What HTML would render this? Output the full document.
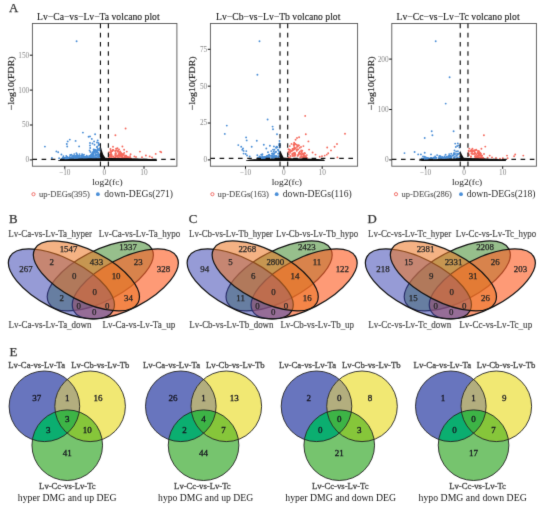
<!DOCTYPE html>
<html><head><meta charset="utf-8"><style>
html,body{margin:0;padding:0;background:#fff;}
body{width:550px;height:509px;overflow:hidden;}
svg{display:block;font-family:"Liberation Serif", serif;}
</style></head><body>
<svg width="550" height="509" viewBox="0 0 550 509"><defs><clipPath id="cb0"><circle cx="44.4" cy="406.3" r="35.3"/></clipPath><clipPath id="cy0"><circle cx="90.1" cy="406.3" r="35.3"/></clipPath><clipPath id="cb1"><circle cx="180.8" cy="406.3" r="35.3"/></clipPath><clipPath id="cy1"><circle cx="226.3" cy="406.3" r="35.3"/></clipPath><clipPath id="cb2"><circle cx="316.5" cy="406.3" r="35.3"/></clipPath><clipPath id="cy2"><circle cx="362.0" cy="406.3" r="35.3"/></clipPath><clipPath id="cb3"><circle cx="450.8" cy="406.3" r="35.3"/></clipPath><clipPath id="cy3"><circle cx="496.3" cy="406.3" r="35.3"/></clipPath><filter id="bl" x="0" y="0" width="550" height="509" filterUnits="userSpaceOnUse" color-interpolation-filters="sRGB"><feConvolveMatrix order="3" kernelMatrix="1.0 8.0 1.0 8.0 64.0 8.0 1.0 8.0 1.0" edgeMode="duplicate"/></filter></defs><g filter="url(#bl)"><rect width="550" height="509" fill="#fff"/><g><rect x="32.40" y="23.50" width="144.50" height="142.70" fill="none" stroke="#555" stroke-width="0.9"/><text x="37.00" y="19.90" font-size="9.4" fill="#222" textLength="122.60" lengthAdjust="spacingAndGlyphs" stroke="#222" stroke-width="0.12">Lv−Ca−vs−Lv−Ta volcano plot</text><line x1="29.80" y1="159.90" x2="32.40" y2="159.90" stroke="#111" stroke-width="1.0"/><text x="29.20" y="162.30" font-size="7.3" fill="#888" text-anchor="end">0</text><line x1="29.80" y1="125.00" x2="32.40" y2="125.00" stroke="#111" stroke-width="1.0"/><text x="29.20" y="127.40" font-size="7.3" fill="#888" text-anchor="end">50</text><line x1="29.80" y1="90.10" x2="32.40" y2="90.10" stroke="#111" stroke-width="1.0"/><text x="29.20" y="92.50" font-size="7.3" fill="#888" text-anchor="end">100</text><line x1="29.80" y1="55.20" x2="32.40" y2="55.20" stroke="#111" stroke-width="1.0"/><text x="29.20" y="57.60" font-size="7.3" fill="#888" text-anchor="end">150</text><line x1="64.80" y1="166.20" x2="64.80" y2="168.80" stroke="#111" stroke-width="1.0"/><text x="64.80" y="175.40" font-size="7.3" fill="#888" text-anchor="middle">−10</text><line x1="104.40" y1="166.20" x2="104.40" y2="168.80" stroke="#111" stroke-width="1.0"/><text x="104.40" y="175.40" font-size="7.3" fill="#888" text-anchor="middle">0</text><line x1="144.00" y1="166.20" x2="144.00" y2="168.80" stroke="#111" stroke-width="1.0"/><text x="144.00" y="175.40" font-size="7.3" fill="#888" text-anchor="middle">10</text><text x="107.40" y="184.50" font-size="8.9" fill="#333" text-anchor="middle" textLength="30.30" lengthAdjust="spacingAndGlyphs" stroke="#333" stroke-width="0.05">log2(fc)</text><text transform="translate(14.10,83.30) rotate(-90) scale(1,0.88)" font-size="9.8" fill="#2a2a2a" stroke="#2a2a2a" stroke-width="0.22" text-anchor="middle" textLength="53.5" lengthAdjust="spacingAndGlyphs">−log10(FDR)</text><circle cx="33.50" cy="194.2" r="1.6" fill="none" stroke="#F2706A" stroke-width="1.0"/><text x="38.90" y="196.90" font-size="8.6" fill="#555" textLength="50.90" lengthAdjust="spacingAndGlyphs" stroke="#555" stroke-width="0.1">up-DEGs(395)</text><circle cx="97.90" cy="194.2" r="1.9" fill="#4A8FD8"/><text x="104.30" y="197.40" font-size="9.8" fill="#2e2e2e" textLength="68.70" lengthAdjust="spacingAndGlyphs">down-DEGs(271)</text></g><g><rect x="210.40" y="23.50" width="147.20" height="142.70" fill="none" stroke="#555" stroke-width="0.9"/><text x="216.00" y="19.90" font-size="9.4" fill="#222" textLength="124.40" lengthAdjust="spacingAndGlyphs" stroke="#222" stroke-width="0.12">Lv−Cb−vs−Lv−Tb volcano plot</text><line x1="207.80" y1="159.90" x2="210.40" y2="159.90" stroke="#111" stroke-width="1.0"/><text x="207.20" y="162.30" font-size="7.3" fill="#888" text-anchor="end">0</text><line x1="207.80" y1="123.03" x2="210.40" y2="123.03" stroke="#111" stroke-width="1.0"/><text x="207.20" y="125.43" font-size="7.3" fill="#888" text-anchor="end">25</text><line x1="207.80" y1="86.17" x2="210.40" y2="86.17" stroke="#111" stroke-width="1.0"/><text x="207.20" y="88.57" font-size="7.3" fill="#888" text-anchor="end">50</text><line x1="207.80" y1="49.30" x2="210.40" y2="49.30" stroke="#111" stroke-width="1.0"/><text x="207.20" y="51.70" font-size="7.3" fill="#888" text-anchor="end">75</text><line x1="245.50" y1="166.20" x2="245.50" y2="168.80" stroke="#111" stroke-width="1.0"/><text x="245.50" y="175.40" font-size="7.3" fill="#888" text-anchor="middle">−10</text><line x1="283.85" y1="166.20" x2="283.85" y2="168.80" stroke="#111" stroke-width="1.0"/><text x="283.85" y="175.40" font-size="7.3" fill="#888" text-anchor="middle">0</text><line x1="322.20" y1="166.20" x2="322.20" y2="168.80" stroke="#111" stroke-width="1.0"/><text x="322.20" y="175.40" font-size="7.3" fill="#888" text-anchor="middle">10</text><text x="286.85" y="184.50" font-size="8.9" fill="#333" text-anchor="middle" textLength="30.30" lengthAdjust="spacingAndGlyphs" stroke="#333" stroke-width="0.05">log2(fc)</text><text transform="translate(194.60,83.30) rotate(-90) scale(1,0.88)" font-size="9.8" fill="#2a2a2a" stroke="#2a2a2a" stroke-width="0.22" text-anchor="middle" textLength="53.5" lengthAdjust="spacingAndGlyphs">−log10(FDR)</text><circle cx="212.40" cy="194.2" r="1.6" fill="none" stroke="#F2706A" stroke-width="1.0"/><text x="217.60" y="196.90" font-size="8.6" fill="#555" textLength="51.40" lengthAdjust="spacingAndGlyphs" stroke="#555" stroke-width="0.1">up-DEGs(163)</text><circle cx="276.70" cy="194.2" r="1.9" fill="#4A8FD8"/><text x="282.70" y="197.40" font-size="9.8" fill="#2e2e2e" textLength="69.10" lengthAdjust="spacingAndGlyphs">down-DEGs(116)</text></g><g><rect x="391.80" y="23.50" width="144.60" height="142.70" fill="none" stroke="#555" stroke-width="0.9"/><text x="396.50" y="19.90" font-size="9.4" fill="#222" textLength="123.10" lengthAdjust="spacingAndGlyphs" stroke="#222" stroke-width="0.12">Lv−Cc−vs−Lv−Tc volcano plot</text><line x1="389.20" y1="159.90" x2="391.80" y2="159.90" stroke="#111" stroke-width="1.0"/><text x="388.60" y="162.30" font-size="7.3" fill="#888" text-anchor="end">0</text><line x1="389.20" y1="109.50" x2="391.80" y2="109.50" stroke="#111" stroke-width="1.0"/><text x="388.60" y="111.90" font-size="7.3" fill="#888" text-anchor="end">100</text><line x1="389.20" y1="59.10" x2="391.80" y2="59.10" stroke="#111" stroke-width="1.0"/><text x="388.60" y="61.50" font-size="7.3" fill="#888" text-anchor="end">200</text><line x1="425.50" y1="166.20" x2="425.50" y2="168.80" stroke="#111" stroke-width="1.0"/><text x="425.50" y="175.40" font-size="7.3" fill="#888" text-anchor="middle">−10</text><line x1="464.10" y1="166.20" x2="464.10" y2="168.80" stroke="#111" stroke-width="1.0"/><text x="464.10" y="175.40" font-size="7.3" fill="#888" text-anchor="middle">0</text><line x1="502.70" y1="166.20" x2="502.70" y2="168.80" stroke="#111" stroke-width="1.0"/><text x="502.70" y="175.40" font-size="7.3" fill="#888" text-anchor="middle">10</text><text x="467.10" y="184.50" font-size="8.9" fill="#333" text-anchor="middle" textLength="30.30" lengthAdjust="spacingAndGlyphs" stroke="#333" stroke-width="0.05">log2(fc)</text><text transform="translate(373.70,83.30) rotate(-90) scale(1,0.88)" font-size="9.8" fill="#2a2a2a" stroke="#2a2a2a" stroke-width="0.22" text-anchor="middle" textLength="53.5" lengthAdjust="spacingAndGlyphs">−log10(FDR)</text><circle cx="396.00" cy="194.2" r="1.6" fill="none" stroke="#F2706A" stroke-width="1.0"/><text x="401.50" y="196.90" font-size="8.6" fill="#555" textLength="50.30" lengthAdjust="spacingAndGlyphs" stroke="#555" stroke-width="0.1">up-DEGs(286)</text><circle cx="461.00" cy="194.2" r="1.9" fill="#4A8FD8"/><text x="466.70" y="197.40" font-size="9.8" fill="#2e2e2e" textLength="68.80" lengthAdjust="spacingAndGlyphs">down-DEGs(218)</text></g><g fill="#4A8ED6"><circle cx="85.9" cy="158.0" r="0.95"/><circle cx="96.4" cy="155.2" r="0.95"/><circle cx="91.7" cy="155.9" r="0.95"/><circle cx="70.6" cy="155.6" r="0.95"/><circle cx="73.5" cy="156.3" r="0.95"/><circle cx="95.5" cy="157.6" r="0.95"/><circle cx="62.2" cy="158.6" r="0.95"/><circle cx="93.5" cy="158.7" r="0.95"/><circle cx="92.5" cy="156.6" r="0.95"/><circle cx="79.9" cy="158.9" r="0.95"/><circle cx="73.6" cy="158.2" r="0.95"/><circle cx="72.7" cy="156.0" r="0.95"/><circle cx="71.8" cy="157.3" r="0.95"/><circle cx="79.0" cy="157.6" r="0.95"/><circle cx="81.3" cy="158.8" r="0.95"/><circle cx="83.2" cy="156.2" r="0.95"/><circle cx="100.1" cy="144.7" r="0.95"/><circle cx="92.4" cy="153.9" r="0.95"/><circle cx="85.8" cy="158.6" r="0.95"/><circle cx="99.9" cy="155.1" r="0.95"/><circle cx="70.2" cy="155.0" r="0.95"/><circle cx="68.1" cy="158.8" r="0.95"/><circle cx="85.5" cy="158.9" r="0.95"/><circle cx="63.7" cy="158.6" r="0.95"/><circle cx="63.4" cy="156.2" r="0.95"/><circle cx="81.7" cy="158.6" r="0.95"/><circle cx="79.9" cy="156.0" r="0.95"/><circle cx="97.1" cy="154.5" r="0.95"/><circle cx="86.1" cy="158.7" r="0.95"/><circle cx="81.7" cy="157.0" r="0.95"/><circle cx="81.0" cy="158.3" r="0.95"/><circle cx="71.5" cy="154.8" r="0.95"/><circle cx="62.5" cy="158.8" r="0.95"/><circle cx="69.4" cy="158.2" r="0.95"/><circle cx="88.5" cy="158.0" r="0.95"/><circle cx="69.7" cy="158.1" r="0.95"/><circle cx="76.2" cy="157.8" r="0.95"/><circle cx="62.1" cy="158.6" r="0.95"/><circle cx="93.8" cy="152.3" r="0.95"/><circle cx="67.9" cy="158.8" r="0.95"/><circle cx="72.2" cy="158.7" r="0.95"/><circle cx="95.7" cy="158.3" r="0.95"/><circle cx="81.5" cy="155.8" r="0.95"/><circle cx="94.4" cy="151.0" r="0.95"/><circle cx="86.5" cy="158.6" r="0.95"/><circle cx="90.4" cy="156.4" r="0.95"/><circle cx="65.5" cy="158.8" r="0.95"/><circle cx="82.7" cy="157.7" r="0.95"/><circle cx="81.4" cy="157.6" r="0.95"/><circle cx="95.4" cy="150.3" r="0.95"/><circle cx="75.8" cy="158.8" r="0.95"/><circle cx="84.9" cy="158.4" r="0.95"/><circle cx="64.3" cy="158.4" r="0.95"/><circle cx="76.8" cy="158.8" r="0.95"/><circle cx="74.4" cy="158.4" r="0.95"/><circle cx="67.8" cy="158.4" r="0.95"/><circle cx="93.3" cy="152.8" r="0.95"/><circle cx="76.5" cy="156.3" r="0.95"/><circle cx="99.5" cy="148.8" r="0.95"/><circle cx="84.6" cy="157.3" r="0.95"/><circle cx="85.2" cy="157.6" r="0.95"/><circle cx="86.4" cy="157.4" r="0.95"/><circle cx="87.9" cy="158.0" r="0.95"/><circle cx="67.8" cy="158.0" r="0.95"/><circle cx="78.9" cy="158.1" r="0.95"/><circle cx="71.2" cy="158.7" r="0.95"/><circle cx="77.4" cy="156.2" r="0.95"/><circle cx="65.7" cy="158.8" r="0.95"/><circle cx="99.1" cy="144.4" r="0.95"/><circle cx="70.2" cy="157.9" r="0.95"/><circle cx="87.7" cy="158.5" r="0.95"/><circle cx="73.5" cy="156.2" r="0.95"/><circle cx="95.5" cy="158.0" r="0.95"/><circle cx="87.4" cy="156.9" r="0.95"/><circle cx="67.0" cy="158.9" r="0.95"/><circle cx="94.4" cy="150.8" r="0.95"/><circle cx="98.2" cy="152.9" r="0.95"/><circle cx="96.6" cy="150.7" r="0.95"/><circle cx="83.8" cy="158.4" r="0.95"/><circle cx="67.6" cy="158.0" r="0.95"/><circle cx="69.4" cy="157.8" r="0.95"/><circle cx="97.5" cy="152.3" r="0.95"/><circle cx="83.2" cy="156.4" r="0.95"/><circle cx="68.9" cy="158.4" r="0.95"/><circle cx="95.9" cy="155.6" r="0.95"/><circle cx="86.6" cy="157.8" r="0.95"/><circle cx="83.8" cy="156.9" r="0.95"/><circle cx="76.4" cy="153.2" r="0.95"/><circle cx="77.7" cy="156.6" r="0.95"/><circle cx="71.2" cy="158.6" r="0.95"/><circle cx="63.5" cy="158.6" r="0.95"/><circle cx="95.6" cy="151.9" r="0.95"/><circle cx="79.9" cy="158.8" r="0.95"/><circle cx="83.0" cy="157.1" r="0.95"/><circle cx="74.3" cy="158.9" r="0.95"/><circle cx="90.8" cy="156.0" r="0.95"/><circle cx="63.0" cy="157.9" r="0.95"/><circle cx="76.3" cy="157.7" r="0.95"/><circle cx="63.2" cy="158.5" r="0.95"/><circle cx="66.7" cy="158.4" r="0.95"/><circle cx="99.0" cy="150.3" r="0.95"/><circle cx="87.2" cy="158.8" r="0.95"/><circle cx="78.4" cy="157.1" r="0.95"/><circle cx="82.1" cy="154.1" r="0.95"/><circle cx="95.4" cy="150.0" r="0.95"/><circle cx="75.2" cy="158.8" r="0.95"/><circle cx="84.6" cy="158.1" r="0.95"/><circle cx="88.2" cy="158.0" r="0.95"/><circle cx="75.6" cy="157.3" r="0.95"/><circle cx="81.9" cy="158.8" r="0.95"/><circle cx="91.3" cy="157.0" r="0.95"/><circle cx="96.8" cy="157.3" r="0.95"/><circle cx="67.8" cy="158.7" r="0.95"/><circle cx="97.7" cy="148.9" r="0.95"/><circle cx="62.2" cy="158.9" r="0.95"/><circle cx="90.8" cy="157.8" r="0.95"/><circle cx="93.0" cy="154.1" r="0.95"/><circle cx="67.2" cy="158.2" r="0.95"/><circle cx="78.0" cy="157.2" r="0.95"/><circle cx="93.2" cy="153.5" r="0.95"/><circle cx="62.5" cy="158.7" r="0.95"/><circle cx="86.1" cy="157.9" r="0.95"/><circle cx="92.4" cy="154.5" r="0.95"/><circle cx="81.6" cy="157.0" r="0.95"/><circle cx="89.8" cy="157.8" r="0.95"/><circle cx="70.7" cy="158.2" r="0.95"/><circle cx="69.6" cy="158.1" r="0.95"/><circle cx="75.9" cy="157.8" r="0.95"/><circle cx="68.9" cy="157.8" r="0.95"/><circle cx="75.3" cy="157.9" r="0.95"/><circle cx="98.3" cy="154.3" r="0.95"/><circle cx="84.0" cy="154.7" r="0.95"/><circle cx="75.0" cy="157.5" r="0.95"/><circle cx="72.4" cy="158.3" r="0.95"/><circle cx="98.5" cy="145.2" r="0.95"/><circle cx="79.0" cy="157.9" r="0.95"/><circle cx="99.5" cy="148.5" r="0.95"/><circle cx="81.7" cy="156.6" r="0.95"/><circle cx="82.0" cy="157.8" r="0.95"/><circle cx="96.3" cy="152.0" r="0.95"/><circle cx="90.4" cy="158.9" r="0.95"/><circle cx="84.2" cy="158.2" r="0.95"/><circle cx="78.3" cy="155.8" r="0.95"/><circle cx="95.6" cy="154.0" r="0.95"/><circle cx="77.8" cy="157.1" r="0.95"/><circle cx="97.3" cy="152.1" r="0.95"/><circle cx="64.6" cy="158.3" r="0.95"/><circle cx="78.5" cy="157.1" r="0.95"/><circle cx="81.9" cy="157.9" r="0.95"/><circle cx="98.4" cy="157.5" r="0.95"/><circle cx="71.6" cy="158.4" r="0.95"/><circle cx="92.9" cy="157.6" r="0.95"/><circle cx="87.9" cy="158.4" r="0.95"/><circle cx="89.5" cy="157.0" r="0.95"/><circle cx="86.1" cy="158.4" r="0.95"/><circle cx="99.2" cy="154.4" r="0.95"/><circle cx="74.7" cy="158.0" r="0.95"/><circle cx="77.3" cy="157.0" r="0.95"/><circle cx="69.8" cy="157.2" r="0.95"/><circle cx="63.9" cy="158.1" r="0.95"/><circle cx="70.2" cy="158.4" r="0.95"/><circle cx="97.1" cy="146.6" r="0.95"/><circle cx="94.2" cy="151.8" r="0.95"/><circle cx="66.3" cy="158.5" r="0.95"/><circle cx="85.1" cy="157.6" r="0.95"/><circle cx="80.4" cy="158.8" r="0.95"/><circle cx="84.8" cy="157.1" r="0.95"/><circle cx="87.3" cy="158.5" r="0.95"/><circle cx="73.7" cy="157.7" r="0.95"/><circle cx="98.8" cy="157.3" r="0.95"/><circle cx="79.8" cy="157.8" r="0.95"/><circle cx="86.1" cy="157.4" r="0.95"/><circle cx="86.3" cy="157.5" r="0.95"/><circle cx="69.0" cy="158.3" r="0.95"/><circle cx="64.4" cy="158.2" r="0.95"/><circle cx="77.8" cy="157.5" r="0.95"/><circle cx="91.3" cy="157.9" r="0.95"/><circle cx="93.2" cy="155.6" r="0.95"/><circle cx="90.0" cy="158.6" r="0.95"/><circle cx="66.3" cy="158.7" r="0.95"/><circle cx="97.0" cy="147.3" r="0.95"/><circle cx="92.7" cy="154.4" r="0.95"/><circle cx="95.6" cy="158.7" r="0.95"/><circle cx="82.0" cy="156.9" r="0.95"/><circle cx="97.1" cy="150.2" r="0.95"/><circle cx="63.8" cy="158.6" r="0.95"/><circle cx="63.2" cy="158.9" r="0.95"/><circle cx="62.8" cy="158.6" r="0.95"/><circle cx="71.7" cy="158.5" r="0.95"/><circle cx="71.5" cy="157.6" r="0.95"/><circle cx="69.2" cy="158.4" r="0.95"/><circle cx="83.7" cy="157.5" r="0.95"/><circle cx="63.5" cy="158.8" r="0.95"/><circle cx="84.6" cy="158.1" r="0.95"/><circle cx="68.4" cy="158.3" r="0.95"/><circle cx="88.0" cy="158.1" r="0.95"/><circle cx="62.8" cy="158.8" r="0.95"/><circle cx="73.9" cy="156.0" r="0.95"/><circle cx="97.9" cy="156.5" r="0.95"/><circle cx="82.6" cy="155.0" r="0.95"/><circle cx="93.1" cy="157.7" r="0.95"/><circle cx="87.2" cy="158.9" r="0.95"/><circle cx="85.4" cy="158.2" r="0.95"/><circle cx="69.3" cy="157.7" r="0.95"/><circle cx="84.0" cy="157.3" r="0.95"/><circle cx="63.5" cy="157.6" r="0.95"/><circle cx="92.7" cy="152.3" r="0.95"/><circle cx="98.8" cy="156.0" r="0.95"/><circle cx="94.7" cy="149.8" r="0.95"/><circle cx="63.9" cy="158.6" r="0.95"/><circle cx="75.0" cy="155.9" r="0.95"/><circle cx="74.2" cy="154.1" r="0.95"/><circle cx="66.3" cy="156.0" r="0.95"/><circle cx="86.0" cy="157.6" r="0.95"/><circle cx="92.5" cy="154.8" r="0.95"/><circle cx="74.0" cy="158.1" r="0.95"/><circle cx="95.0" cy="157.3" r="0.95"/><circle cx="92.5" cy="152.7" r="0.95"/><circle cx="66.9" cy="158.5" r="0.95"/><circle cx="91.4" cy="158.6" r="0.95"/><circle cx="95.8" cy="155.4" r="0.95"/><circle cx="69.6" cy="157.9" r="0.95"/><circle cx="84.0" cy="158.7" r="0.95"/><circle cx="86.5" cy="158.8" r="0.95"/><circle cx="85.3" cy="156.8" r="0.95"/><circle cx="65.7" cy="158.7" r="0.95"/><circle cx="87.3" cy="156.7" r="0.95"/><circle cx="86.2" cy="158.9" r="0.95"/><circle cx="93.6" cy="158.1" r="0.95"/><circle cx="92.8" cy="158.3" r="0.95"/><circle cx="74.5" cy="157.7" r="0.95"/><circle cx="89.7" cy="158.9" r="0.95"/><circle cx="95.2" cy="155.5" r="0.95"/><circle cx="96.2" cy="157.9" r="0.95"/><circle cx="68.2" cy="158.6" r="0.95"/><circle cx="63.0" cy="158.5" r="0.95"/><circle cx="86.9" cy="158.7" r="0.95"/><circle cx="70.2" cy="157.8" r="0.95"/><circle cx="83.6" cy="158.1" r="0.95"/><circle cx="98.2" cy="155.0" r="0.95"/><circle cx="76.5" cy="156.0" r="0.95"/><circle cx="71.7" cy="158.7" r="0.95"/><circle cx="79.5" cy="155.7" r="0.95"/><circle cx="87.2" cy="157.5" r="0.95"/><circle cx="65.9" cy="158.3" r="0.95"/><circle cx="76.6" cy="158.8" r="0.95"/><circle cx="67.1" cy="157.5" r="0.95"/><circle cx="87.4" cy="158.1" r="0.95"/><circle cx="93.8" cy="150.7" r="0.95"/><circle cx="76.4" cy="158.4" r="0.95"/><circle cx="76.2" cy="155.4" r="0.95"/><circle cx="82.7" cy="156.5" r="0.95"/><circle cx="70.2" cy="158.8" r="0.95"/><circle cx="71.5" cy="158.4" r="0.95"/><circle cx="74.6" cy="158.9" r="0.95"/><circle cx="79.5" cy="154.1" r="0.95"/><circle cx="65.1" cy="158.0" r="0.95"/><circle cx="90.8" cy="155.8" r="0.95"/><circle cx="84.2" cy="157.6" r="0.95"/><circle cx="73.5" cy="157.2" r="0.95"/><circle cx="65.0" cy="158.3" r="0.95"/><circle cx="91.2" cy="157.2" r="0.95"/><circle cx="67.0" cy="157.9" r="0.95"/><circle cx="67.1" cy="156.9" r="0.95"/><circle cx="67.0" cy="158.6" r="0.95"/><circle cx="65.1" cy="158.5" r="0.95"/><circle cx="96.7" cy="158.8" r="0.95"/><circle cx="72.3" cy="157.2" r="0.95"/><circle cx="73.7" cy="157.0" r="0.95"/><circle cx="93.9" cy="156.3" r="0.95"/><circle cx="85.7" cy="157.3" r="0.95"/><circle cx="69.2" cy="157.7" r="0.95"/><circle cx="78.7" cy="158.0" r="0.95"/><circle cx="95.9" cy="158.5" r="0.95"/><circle cx="76.4" cy="158.6" r="0.95"/><circle cx="89.2" cy="156.2" r="0.95"/><circle cx="65.7" cy="158.7" r="0.95"/><circle cx="89.9" cy="158.2" r="0.95"/><circle cx="91.7" cy="154.1" r="0.95"/><circle cx="93.6" cy="157.5" r="0.95"/><circle cx="87.8" cy="157.6" r="0.95"/><circle cx="76.2" cy="156.7" r="0.95"/><circle cx="64.5" cy="158.1" r="0.95"/><circle cx="81.9" cy="157.9" r="0.95"/><circle cx="91.0" cy="158.9" r="0.95"/><circle cx="69.3" cy="157.6" r="0.95"/><circle cx="72.2" cy="158.5" r="0.95"/><circle cx="82.5" cy="158.7" r="0.95"/><circle cx="90.7" cy="156.7" r="0.95"/><circle cx="96.3" cy="152.4" r="0.95"/><circle cx="66.8" cy="158.8" r="0.95"/><circle cx="69.1" cy="158.6" r="0.95"/><circle cx="92.6" cy="153.2" r="0.95"/><circle cx="86.7" cy="155.8" r="0.95"/><circle cx="89.6" cy="157.6" r="0.95"/><circle cx="100.2" cy="158.0" r="0.95"/><circle cx="98.0" cy="149.7" r="0.95"/><circle cx="94.3" cy="158.4" r="0.95"/><circle cx="91.8" cy="157.0" r="0.95"/><circle cx="77.1" cy="154.4" r="0.95"/><circle cx="86.6" cy="158.1" r="0.95"/><circle cx="69.1" cy="157.6" r="0.95"/><circle cx="91.1" cy="154.7" r="0.95"/><circle cx="91.0" cy="158.3" r="0.95"/><circle cx="89.6" cy="156.0" r="0.95"/><circle cx="79.0" cy="157.0" r="0.95"/><circle cx="76.5" cy="158.1" r="0.95"/><circle cx="78.1" cy="156.8" r="0.95"/><circle cx="63.3" cy="158.7" r="0.95"/><circle cx="94.3" cy="151.9" r="0.95"/><circle cx="82.8" cy="158.3" r="0.95"/><circle cx="76.8" cy="156.2" r="0.95"/><circle cx="83.0" cy="157.4" r="0.95"/><circle cx="89.6" cy="157.6" r="0.95"/><circle cx="76.6" cy="157.8" r="0.95"/><circle cx="93.8" cy="153.7" r="0.95"/><circle cx="97.2" cy="151.7" r="0.95"/><circle cx="76.8" cy="157.8" r="0.95"/><circle cx="67.3" cy="158.9" r="0.95"/><circle cx="91.1" cy="155.6" r="0.95"/><circle cx="100.0" cy="150.6" r="0.95"/><circle cx="67.7" cy="158.7" r="0.95"/><circle cx="89.3" cy="157.6" r="0.95"/><circle cx="93.6" cy="149.5" r="0.95"/><circle cx="97.3" cy="154.6" r="0.95"/><circle cx="66.7" cy="158.0" r="0.95"/><circle cx="65.5" cy="158.5" r="0.95"/><circle cx="99.8" cy="156.3" r="0.95"/><circle cx="66.5" cy="157.3" r="0.95"/><circle cx="68.8" cy="158.8" r="0.95"/><circle cx="44.9" cy="146.6" r="0.95"/><circle cx="82.9" cy="132.6" r="0.95"/><circle cx="95.1" cy="134.2" r="0.95"/><circle cx="69.8" cy="139.6" r="0.95"/><circle cx="75.6" cy="140.9" r="0.95"/><circle cx="79.1" cy="146.4" r="0.95"/><circle cx="66.8" cy="144.0" r="0.95"/><circle cx="67.7" cy="141.4" r="0.95"/><circle cx="67.2" cy="146.5" r="0.95"/><circle cx="56.4" cy="151.4" r="0.95"/><circle cx="58.2" cy="152.3" r="0.95"/><circle cx="61.4" cy="154.5" r="0.95"/><circle cx="59.1" cy="158.2" r="0.95"/><circle cx="51.9" cy="158.0" r="0.95"/><circle cx="88.6" cy="136.8" r="0.95"/><circle cx="90.0" cy="136.4" r="0.95"/><circle cx="91.8" cy="138.9" r="0.95"/><circle cx="94.1" cy="141.4" r="0.95"/><circle cx="97.7" cy="140.5" r="0.95"/><circle cx="90.0" cy="143.0" r="0.95"/><circle cx="90.0" cy="145.5" r="0.95"/><circle cx="90.2" cy="148.0" r="0.95"/><circle cx="89.6" cy="150.5" r="0.95"/><circle cx="90.4" cy="152.0" r="0.95"/><circle cx="76.6" cy="41.3" r="0.95"/><circle cx="92.5" cy="143.5" r="0.95"/><circle cx="94.5" cy="144.8" r="0.95"/><circle cx="97.0" cy="142.5" r="0.95"/><circle cx="98.5" cy="143.0" r="0.95"/></g><g fill="#F5695D"><circle cx="124.8" cy="156.9" r="0.95"/><circle cx="115.7" cy="154.5" r="0.95"/><circle cx="128.7" cy="157.4" r="0.95"/><circle cx="117.5" cy="156.9" r="0.95"/><circle cx="120.0" cy="156.7" r="0.95"/><circle cx="128.3" cy="157.9" r="0.95"/><circle cx="123.7" cy="154.8" r="0.95"/><circle cx="110.9" cy="152.3" r="0.95"/><circle cx="111.8" cy="155.1" r="0.95"/><circle cx="130.8" cy="158.4" r="0.95"/><circle cx="109.4" cy="154.9" r="0.95"/><circle cx="115.5" cy="150.5" r="0.95"/><circle cx="130.1" cy="158.7" r="0.95"/><circle cx="109.1" cy="158.2" r="0.95"/><circle cx="112.4" cy="151.1" r="0.95"/><circle cx="113.5" cy="156.9" r="0.95"/><circle cx="110.7" cy="150.5" r="0.95"/><circle cx="119.3" cy="155.0" r="0.95"/><circle cx="122.0" cy="156.5" r="0.95"/><circle cx="115.9" cy="158.5" r="0.95"/><circle cx="111.2" cy="151.4" r="0.95"/><circle cx="126.8" cy="158.8" r="0.95"/><circle cx="126.7" cy="156.4" r="0.95"/><circle cx="121.3" cy="153.6" r="0.95"/><circle cx="111.9" cy="156.8" r="0.95"/><circle cx="120.8" cy="158.5" r="0.95"/><circle cx="122.8" cy="154.3" r="0.95"/><circle cx="118.3" cy="155.8" r="0.95"/><circle cx="128.0" cy="158.8" r="0.95"/><circle cx="117.5" cy="155.6" r="0.95"/><circle cx="120.1" cy="151.5" r="0.95"/><circle cx="111.3" cy="155.7" r="0.95"/><circle cx="121.3" cy="155.4" r="0.95"/><circle cx="125.8" cy="156.0" r="0.95"/><circle cx="125.0" cy="156.0" r="0.95"/><circle cx="114.5" cy="158.0" r="0.95"/><circle cx="130.8" cy="158.7" r="0.95"/><circle cx="124.8" cy="157.3" r="0.95"/><circle cx="118.2" cy="151.0" r="0.95"/><circle cx="118.0" cy="158.6" r="0.95"/><circle cx="126.1" cy="157.6" r="0.95"/><circle cx="112.7" cy="150.2" r="0.95"/><circle cx="123.0" cy="157.3" r="0.95"/><circle cx="124.8" cy="158.2" r="0.95"/><circle cx="120.3" cy="155.7" r="0.95"/><circle cx="128.2" cy="158.5" r="0.95"/><circle cx="119.2" cy="152.2" r="0.95"/><circle cx="119.1" cy="158.6" r="0.95"/><circle cx="115.1" cy="157.7" r="0.95"/><circle cx="129.2" cy="158.8" r="0.95"/><circle cx="115.8" cy="153.3" r="0.95"/><circle cx="124.2" cy="152.9" r="0.95"/><circle cx="117.9" cy="151.8" r="0.95"/><circle cx="129.6" cy="157.9" r="0.95"/><circle cx="129.8" cy="157.9" r="0.95"/><circle cx="109.5" cy="157.2" r="0.95"/><circle cx="130.9" cy="158.9" r="0.95"/><circle cx="122.2" cy="157.2" r="0.95"/><circle cx="110.4" cy="149.0" r="0.95"/><circle cx="119.8" cy="153.9" r="0.95"/><circle cx="109.9" cy="158.6" r="0.95"/><circle cx="121.0" cy="154.9" r="0.95"/><circle cx="112.9" cy="150.2" r="0.95"/><circle cx="117.0" cy="150.8" r="0.95"/><circle cx="115.6" cy="153.2" r="0.95"/><circle cx="122.2" cy="154.2" r="0.95"/><circle cx="127.1" cy="157.0" r="0.95"/><circle cx="129.6" cy="158.6" r="0.95"/><circle cx="116.1" cy="148.6" r="0.95"/><circle cx="121.4" cy="154.8" r="0.95"/><circle cx="108.9" cy="158.1" r="0.95"/><circle cx="117.1" cy="156.5" r="0.95"/><circle cx="130.1" cy="156.1" r="0.95"/><circle cx="111.4" cy="154.1" r="0.95"/><circle cx="128.1" cy="158.1" r="0.95"/><circle cx="123.3" cy="154.2" r="0.95"/><circle cx="115.3" cy="157.2" r="0.95"/><circle cx="126.1" cy="155.8" r="0.95"/><circle cx="115.2" cy="151.0" r="0.95"/><circle cx="128.7" cy="158.5" r="0.95"/><circle cx="110.6" cy="156.5" r="0.95"/><circle cx="111.4" cy="158.2" r="0.95"/><circle cx="125.5" cy="155.7" r="0.95"/><circle cx="118.8" cy="158.0" r="0.95"/><circle cx="112.1" cy="158.9" r="0.95"/><circle cx="120.2" cy="153.0" r="0.95"/><circle cx="115.4" cy="154.3" r="0.95"/><circle cx="121.0" cy="155.1" r="0.95"/><circle cx="125.3" cy="156.5" r="0.95"/><circle cx="127.8" cy="158.9" r="0.95"/><circle cx="110.1" cy="158.4" r="0.95"/><circle cx="122.0" cy="156.5" r="0.95"/><circle cx="130.6" cy="158.9" r="0.95"/><circle cx="119.0" cy="155.8" r="0.95"/><circle cx="125.9" cy="156.7" r="0.95"/><circle cx="111.0" cy="152.9" r="0.95"/><circle cx="128.2" cy="157.9" r="0.95"/><circle cx="121.7" cy="158.8" r="0.95"/><circle cx="128.5" cy="158.6" r="0.95"/><circle cx="126.3" cy="156.4" r="0.95"/><circle cx="128.1" cy="158.8" r="0.95"/><circle cx="110.1" cy="154.3" r="0.95"/><circle cx="124.7" cy="158.8" r="0.95"/><circle cx="113.2" cy="150.0" r="0.95"/><circle cx="114.7" cy="158.0" r="0.95"/><circle cx="116.0" cy="156.2" r="0.95"/><circle cx="121.9" cy="156.2" r="0.95"/><circle cx="122.7" cy="155.4" r="0.95"/><circle cx="129.5" cy="157.8" r="0.95"/><circle cx="109.1" cy="152.2" r="0.95"/><circle cx="113.1" cy="156.5" r="0.95"/><circle cx="116.8" cy="148.8" r="0.95"/><circle cx="127.0" cy="157.4" r="0.95"/><circle cx="121.0" cy="152.7" r="0.95"/><circle cx="120.2" cy="158.9" r="0.95"/><circle cx="125.7" cy="156.5" r="0.95"/><circle cx="123.3" cy="158.4" r="0.95"/><circle cx="115.2" cy="155.6" r="0.95"/><circle cx="110.7" cy="154.4" r="0.95"/><circle cx="119.1" cy="154.9" r="0.95"/><circle cx="128.3" cy="157.2" r="0.95"/><circle cx="122.1" cy="155.4" r="0.95"/><circle cx="110.0" cy="155.8" r="0.95"/><circle cx="118.6" cy="153.9" r="0.95"/><circle cx="117.3" cy="155.8" r="0.95"/><circle cx="125.6" cy="128.5" r="0.95"/><circle cx="115.4" cy="135.2" r="0.95"/><circle cx="122.4" cy="146.5" r="0.95"/><circle cx="117.5" cy="148.2" r="0.95"/><circle cx="124.1" cy="149.8" r="0.95"/><circle cx="126.8" cy="151.6" r="0.95"/><circle cx="130.6" cy="154.2" r="0.95"/><circle cx="134.4" cy="156.4" r="0.95"/><circle cx="139.9" cy="151.6" r="0.95"/><circle cx="145.9" cy="155.5" r="0.95"/><circle cx="149.7" cy="156.4" r="0.95"/><circle cx="155.7" cy="153.9" r="0.95"/><circle cx="161.2" cy="152.3" r="0.95"/><circle cx="160.2" cy="151.6" r="0.95"/><circle cx="136.0" cy="157.0" r="0.95"/><circle cx="142.0" cy="157.2" r="0.95"/><circle cx="152.0" cy="157.4" r="0.95"/><circle cx="113.0" cy="146.8" r="0.95"/><circle cx="119.0" cy="149.5" r="0.95"/></g><polygon points="58.0,160.4 62.0,159.6 70.0,159.0 85.0,158.6 100.3,158.2 100.3,144.8 100.9,146.8 101.8,150.2 103.2,154.5 105.3,157.8 110.0,157.9 130.0,158.3 145.0,158.7 156.0,159.2 157.0,160.4 157.0,160.9 58.0,160.9" fill="#0d0d0d"/><g fill="#4A8ED6"><circle cx="271.9" cy="155.6" r="0.95"/><circle cx="261.3" cy="157.7" r="0.95"/><circle cx="275.9" cy="156.1" r="0.95"/><circle cx="273.7" cy="151.5" r="0.95"/><circle cx="274.2" cy="158.9" r="0.95"/><circle cx="273.0" cy="149.6" r="0.95"/><circle cx="276.1" cy="151.7" r="0.95"/><circle cx="263.9" cy="157.6" r="0.95"/><circle cx="272.5" cy="153.4" r="0.95"/><circle cx="268.9" cy="154.9" r="0.95"/><circle cx="264.8" cy="158.0" r="0.95"/><circle cx="264.5" cy="157.1" r="0.95"/><circle cx="260.6" cy="157.0" r="0.95"/><circle cx="268.3" cy="158.7" r="0.95"/><circle cx="265.5" cy="157.9" r="0.95"/><circle cx="266.7" cy="157.0" r="0.95"/><circle cx="276.6" cy="147.6" r="0.95"/><circle cx="272.7" cy="156.3" r="0.95"/><circle cx="272.6" cy="157.8" r="0.95"/><circle cx="279.6" cy="147.6" r="0.95"/><circle cx="262.0" cy="158.2" r="0.95"/><circle cx="268.7" cy="156.3" r="0.95"/><circle cx="259.1" cy="158.4" r="0.95"/><circle cx="266.0" cy="158.7" r="0.95"/><circle cx="278.9" cy="156.3" r="0.95"/><circle cx="259.0" cy="158.8" r="0.95"/><circle cx="274.4" cy="149.7" r="0.95"/><circle cx="276.9" cy="157.0" r="0.95"/><circle cx="268.7" cy="157.4" r="0.95"/><circle cx="275.3" cy="156.4" r="0.95"/><circle cx="267.1" cy="157.8" r="0.95"/><circle cx="265.1" cy="156.9" r="0.95"/><circle cx="268.6" cy="158.8" r="0.95"/><circle cx="261.5" cy="158.8" r="0.95"/><circle cx="264.1" cy="157.2" r="0.95"/><circle cx="264.0" cy="157.8" r="0.95"/><circle cx="279.7" cy="153.8" r="0.95"/><circle cx="264.7" cy="158.3" r="0.95"/><circle cx="262.3" cy="156.3" r="0.95"/><circle cx="278.6" cy="156.5" r="0.95"/><circle cx="260.2" cy="157.9" r="0.95"/><circle cx="279.2" cy="144.2" r="0.95"/><circle cx="276.6" cy="156.0" r="0.95"/><circle cx="271.9" cy="158.8" r="0.95"/><circle cx="266.8" cy="156.2" r="0.95"/><circle cx="261.5" cy="158.5" r="0.95"/><circle cx="259.4" cy="156.5" r="0.95"/><circle cx="259.4" cy="158.1" r="0.95"/><circle cx="265.0" cy="157.0" r="0.95"/><circle cx="266.4" cy="156.5" r="0.95"/><circle cx="278.2" cy="153.7" r="0.95"/><circle cx="269.3" cy="155.6" r="0.95"/><circle cx="279.8" cy="145.1" r="0.95"/><circle cx="273.6" cy="157.2" r="0.95"/><circle cx="260.4" cy="158.3" r="0.95"/><circle cx="269.7" cy="157.6" r="0.95"/><circle cx="260.7" cy="158.0" r="0.95"/><circle cx="257.9" cy="157.9" r="0.95"/><circle cx="278.7" cy="157.3" r="0.95"/><circle cx="264.8" cy="158.5" r="0.95"/><circle cx="261.4" cy="158.4" r="0.95"/><circle cx="259.3" cy="158.5" r="0.95"/><circle cx="272.0" cy="153.8" r="0.95"/><circle cx="267.6" cy="155.8" r="0.95"/><circle cx="257.3" cy="155.2" r="0.95"/><circle cx="273.4" cy="154.3" r="0.95"/><circle cx="262.9" cy="157.7" r="0.95"/><circle cx="275.0" cy="156.9" r="0.95"/><circle cx="268.2" cy="157.6" r="0.95"/><circle cx="269.3" cy="154.7" r="0.95"/><circle cx="267.5" cy="156.2" r="0.95"/><circle cx="272.5" cy="157.3" r="0.95"/><circle cx="279.8" cy="145.8" r="0.95"/><circle cx="275.4" cy="156.4" r="0.95"/><circle cx="258.6" cy="158.6" r="0.95"/><circle cx="268.4" cy="156.3" r="0.95"/><circle cx="262.4" cy="154.2" r="0.95"/><circle cx="259.4" cy="158.7" r="0.95"/><circle cx="261.5" cy="157.6" r="0.95"/><circle cx="262.7" cy="157.4" r="0.95"/><circle cx="279.1" cy="151.8" r="0.95"/><circle cx="274.1" cy="155.1" r="0.95"/><circle cx="276.6" cy="146.6" r="0.95"/><circle cx="273.1" cy="153.7" r="0.95"/><circle cx="264.3" cy="157.2" r="0.95"/><circle cx="266.0" cy="157.5" r="0.95"/><circle cx="267.1" cy="158.4" r="0.95"/><circle cx="263.7" cy="158.5" r="0.95"/><circle cx="266.7" cy="157.8" r="0.95"/><circle cx="274.7" cy="156.5" r="0.95"/><circle cx="258.7" cy="158.8" r="0.95"/><circle cx="263.4" cy="158.1" r="0.95"/><circle cx="268.0" cy="152.3" r="0.95"/><circle cx="272.6" cy="157.3" r="0.95"/><circle cx="271.9" cy="156.9" r="0.95"/><circle cx="273.7" cy="156.8" r="0.95"/><circle cx="259.4" cy="158.5" r="0.95"/><circle cx="261.2" cy="154.7" r="0.95"/><circle cx="264.1" cy="157.8" r="0.95"/><circle cx="263.5" cy="158.5" r="0.95"/><circle cx="274.4" cy="153.3" r="0.95"/><circle cx="279.8" cy="152.8" r="0.95"/><circle cx="272.7" cy="156.3" r="0.95"/><circle cx="257.8" cy="158.4" r="0.95"/><circle cx="263.8" cy="157.4" r="0.95"/><circle cx="275.5" cy="152.1" r="0.95"/><circle cx="278.3" cy="150.3" r="0.95"/><circle cx="270.7" cy="155.9" r="0.95"/><circle cx="265.0" cy="157.2" r="0.95"/><circle cx="265.2" cy="158.5" r="0.95"/><circle cx="259.5" cy="41.3" r="0.95"/><circle cx="257.4" cy="74.7" r="0.95"/><circle cx="226.8" cy="125.6" r="0.95"/><circle cx="224.8" cy="133.9" r="0.95"/><circle cx="267.6" cy="119.5" r="0.95"/><circle cx="272.6" cy="126.6" r="0.95"/><circle cx="273.0" cy="129.3" r="0.95"/><circle cx="277.0" cy="134.3" r="0.95"/><circle cx="246.1" cy="137.4" r="0.95"/><circle cx="246.7" cy="140.4" r="0.95"/><circle cx="256.8" cy="140.8" r="0.95"/><circle cx="238.3" cy="145.1" r="0.95"/><circle cx="241.2" cy="146.8" r="0.95"/><circle cx="243.0" cy="148.5" r="0.95"/><circle cx="242.3" cy="149.8" r="0.95"/><circle cx="243.6" cy="150.9" r="0.95"/><circle cx="251.7" cy="146.8" r="0.95"/><circle cx="246.3" cy="151.1" r="0.95"/><circle cx="263.8" cy="144.8" r="0.95"/><circle cx="266.3" cy="148.5" r="0.95"/><circle cx="269.9" cy="145.8" r="0.95"/><circle cx="273.9" cy="146.4" r="0.95"/><circle cx="276.0" cy="147.8" r="0.95"/><circle cx="277.3" cy="147.1" r="0.95"/><circle cx="278.0" cy="149.8" r="0.95"/><circle cx="271.2" cy="151.1" r="0.95"/><circle cx="243.6" cy="153.6" r="0.95"/><circle cx="245.7" cy="154.0" r="0.95"/><circle cx="247.0" cy="155.5" r="0.95"/><circle cx="249.7" cy="156.5" r="0.95"/><circle cx="279.5" cy="141.0" r="0.95"/><circle cx="279.6" cy="143.5" r="0.95"/><circle cx="279.2" cy="145.5" r="0.95"/></g><g fill="#F5695D"><circle cx="292.6" cy="149.0" r="0.95"/><circle cx="288.8" cy="154.2" r="0.95"/><circle cx="296.7" cy="150.8" r="0.95"/><circle cx="289.4" cy="149.6" r="0.95"/><circle cx="306.3" cy="158.1" r="0.95"/><circle cx="288.4" cy="158.4" r="0.95"/><circle cx="294.3" cy="149.1" r="0.95"/><circle cx="292.0" cy="150.6" r="0.95"/><circle cx="288.5" cy="149.3" r="0.95"/><circle cx="297.6" cy="155.9" r="0.95"/><circle cx="289.6" cy="149.9" r="0.95"/><circle cx="305.1" cy="156.0" r="0.95"/><circle cx="301.1" cy="156.0" r="0.95"/><circle cx="295.2" cy="143.9" r="0.95"/><circle cx="304.0" cy="157.5" r="0.95"/><circle cx="303.2" cy="158.9" r="0.95"/><circle cx="294.3" cy="143.5" r="0.95"/><circle cx="304.1" cy="157.6" r="0.95"/><circle cx="305.7" cy="158.7" r="0.95"/><circle cx="299.9" cy="151.6" r="0.95"/><circle cx="294.8" cy="153.8" r="0.95"/><circle cx="305.1" cy="157.3" r="0.95"/><circle cx="305.9" cy="158.4" r="0.95"/><circle cx="294.7" cy="154.6" r="0.95"/><circle cx="289.8" cy="146.1" r="0.95"/><circle cx="304.5" cy="152.9" r="0.95"/><circle cx="300.7" cy="153.7" r="0.95"/><circle cx="292.6" cy="153.8" r="0.95"/><circle cx="298.9" cy="153.1" r="0.95"/><circle cx="294.0" cy="148.2" r="0.95"/><circle cx="305.5" cy="158.3" r="0.95"/><circle cx="294.6" cy="152.7" r="0.95"/><circle cx="291.9" cy="150.7" r="0.95"/><circle cx="289.0" cy="157.9" r="0.95"/><circle cx="294.6" cy="147.5" r="0.95"/><circle cx="306.8" cy="155.1" r="0.95"/><circle cx="292.3" cy="156.0" r="0.95"/><circle cx="296.8" cy="150.3" r="0.95"/><circle cx="306.5" cy="157.9" r="0.95"/><circle cx="288.3" cy="152.3" r="0.95"/><circle cx="293.7" cy="144.6" r="0.95"/><circle cx="303.6" cy="158.5" r="0.95"/><circle cx="290.0" cy="152.7" r="0.95"/><circle cx="305.7" cy="157.3" r="0.95"/><circle cx="303.9" cy="155.0" r="0.95"/><circle cx="290.9" cy="151.3" r="0.95"/><circle cx="299.3" cy="152.8" r="0.95"/><circle cx="298.6" cy="154.8" r="0.95"/><circle cx="301.2" cy="154.3" r="0.95"/><circle cx="294.0" cy="145.9" r="0.95"/><circle cx="295.4" cy="148.2" r="0.95"/><circle cx="292.7" cy="148.9" r="0.95"/><circle cx="293.7" cy="144.7" r="0.95"/><circle cx="291.5" cy="143.9" r="0.95"/><circle cx="305.2" cy="158.7" r="0.95"/><circle cx="304.9" cy="156.6" r="0.95"/><circle cx="295.0" cy="153.4" r="0.95"/><circle cx="301.2" cy="150.5" r="0.95"/><circle cx="297.4" cy="146.1" r="0.95"/><circle cx="293.5" cy="153.3" r="0.95"/><circle cx="294.8" cy="149.1" r="0.95"/><circle cx="306.3" cy="158.9" r="0.95"/><circle cx="294.6" cy="155.4" r="0.95"/><circle cx="299.1" cy="153.9" r="0.95"/><circle cx="306.0" cy="157.3" r="0.95"/><circle cx="293.8" cy="155.7" r="0.95"/><circle cx="303.4" cy="153.9" r="0.95"/><circle cx="290.3" cy="156.0" r="0.95"/><circle cx="302.0" cy="156.8" r="0.95"/><circle cx="303.4" cy="156.2" r="0.95"/><circle cx="303.9" cy="156.1" r="0.95"/><circle cx="306.5" cy="157.8" r="0.95"/><circle cx="301.6" cy="152.3" r="0.95"/><circle cx="306.6" cy="158.6" r="0.95"/><circle cx="293.4" cy="149.9" r="0.95"/><circle cx="298.0" cy="145.1" r="0.95"/><circle cx="292.2" cy="154.3" r="0.95"/><circle cx="289.8" cy="149.9" r="0.95"/><circle cx="296.5" cy="144.7" r="0.95"/><circle cx="301.7" cy="151.4" r="0.95"/><circle cx="302.8" cy="153.7" r="0.95"/><circle cx="288.5" cy="157.5" r="0.95"/><circle cx="305.9" cy="158.6" r="0.95"/><circle cx="292.8" cy="149.7" r="0.95"/><circle cx="293.7" cy="155.2" r="0.95"/><circle cx="303.8" cy="156.4" r="0.95"/><circle cx="305.0" cy="153.4" r="0.95"/><circle cx="302.0" cy="157.9" r="0.95"/><circle cx="294.5" cy="144.6" r="0.95"/><circle cx="296.9" cy="147.1" r="0.95"/><circle cx="303.9" cy="158.3" r="0.95"/><circle cx="294.9" cy="155.8" r="0.95"/><circle cx="303.3" cy="154.9" r="0.95"/><circle cx="302.9" cy="153.8" r="0.95"/><circle cx="297.0" cy="149.1" r="0.95"/><circle cx="305.1" cy="157.5" r="0.95"/><circle cx="295.4" cy="154.6" r="0.95"/><circle cx="302.3" cy="150.6" r="0.95"/><circle cx="300.2" cy="157.3" r="0.95"/><circle cx="294.4" cy="153.0" r="0.95"/><circle cx="298.2" cy="145.7" r="0.95"/><circle cx="299.6" cy="147.9" r="0.95"/><circle cx="298.3" cy="154.8" r="0.95"/><circle cx="290.3" cy="158.1" r="0.95"/><circle cx="306.8" cy="158.5" r="0.95"/><circle cx="306.4" cy="157.9" r="0.95"/><circle cx="288.9" cy="151.8" r="0.95"/><circle cx="306.0" cy="157.1" r="0.95"/><circle cx="298.2" cy="149.4" r="0.95"/><circle cx="290.6" cy="151.4" r="0.95"/><circle cx="305.2" cy="115.9" r="0.95"/><circle cx="345.0" cy="133.8" r="0.95"/><circle cx="305.8" cy="134.3" r="0.95"/><circle cx="308.4" cy="141.4" r="0.95"/><circle cx="299.1" cy="137.2" r="0.95"/><circle cx="297.0" cy="138.0" r="0.95"/><circle cx="295.6" cy="139.7" r="0.95"/><circle cx="294.2" cy="142.6" r="0.95"/><circle cx="294.9" cy="144.0" r="0.95"/><circle cx="303.4" cy="146.1" r="0.95"/><circle cx="309.1" cy="149.6" r="0.95"/><circle cx="312.6" cy="152.5" r="0.95"/><circle cx="327.2" cy="147.5" r="0.95"/><circle cx="331.0" cy="150.4" r="0.95"/><circle cx="334.6" cy="146.8" r="0.95"/><circle cx="337.0" cy="144.0" r="0.95"/><circle cx="328.2" cy="153.2" r="0.95"/><circle cx="326.8" cy="154.6" r="0.95"/><circle cx="324.7" cy="155.6" r="0.95"/><circle cx="337.4" cy="157.4" r="0.95"/><circle cx="319.7" cy="156.7" r="0.95"/><circle cx="315.5" cy="154.6" r="0.95"/><circle cx="301.0" cy="147.0" r="0.95"/><circle cx="299.0" cy="145.5" r="0.95"/><circle cx="322.0" cy="156.2" r="0.95"/></g><polygon points="246.0,160.4 250.0,159.4 260.0,158.9 275.0,158.4 279.8,157.8 279.9,150.5 280.8,151.5 282.0,154.5 283.8,157.8 290.0,158.3 305.0,158.6 318.0,158.9 324.0,159.6 325.0,160.9 246.0,160.9" fill="#0d0d0d"/><g fill="#4A8ED6"><circle cx="440.8" cy="158.1" r="0.95"/><circle cx="459.4" cy="157.4" r="0.95"/><circle cx="446.0" cy="157.7" r="0.95"/><circle cx="440.7" cy="157.3" r="0.95"/><circle cx="423.6" cy="158.4" r="0.95"/><circle cx="425.8" cy="158.6" r="0.95"/><circle cx="454.4" cy="158.5" r="0.95"/><circle cx="450.2" cy="155.8" r="0.95"/><circle cx="453.8" cy="153.3" r="0.95"/><circle cx="443.7" cy="157.8" r="0.95"/><circle cx="443.6" cy="158.4" r="0.95"/><circle cx="441.9" cy="157.9" r="0.95"/><circle cx="449.9" cy="156.5" r="0.95"/><circle cx="434.0" cy="158.3" r="0.95"/><circle cx="440.5" cy="156.3" r="0.95"/><circle cx="439.5" cy="156.1" r="0.95"/><circle cx="447.0" cy="158.1" r="0.95"/><circle cx="429.5" cy="158.9" r="0.95"/><circle cx="422.0" cy="158.8" r="0.95"/><circle cx="424.5" cy="158.3" r="0.95"/><circle cx="428.0" cy="158.9" r="0.95"/><circle cx="454.7" cy="154.1" r="0.95"/><circle cx="449.2" cy="156.4" r="0.95"/><circle cx="450.5" cy="157.4" r="0.95"/><circle cx="438.5" cy="158.0" r="0.95"/><circle cx="425.0" cy="158.8" r="0.95"/><circle cx="439.3" cy="156.2" r="0.95"/><circle cx="454.9" cy="154.1" r="0.95"/><circle cx="441.0" cy="157.6" r="0.95"/><circle cx="445.8" cy="157.7" r="0.95"/><circle cx="435.7" cy="157.7" r="0.95"/><circle cx="426.9" cy="158.2" r="0.95"/><circle cx="445.6" cy="154.7" r="0.95"/><circle cx="440.1" cy="157.7" r="0.95"/><circle cx="434.6" cy="158.6" r="0.95"/><circle cx="431.2" cy="157.9" r="0.95"/><circle cx="448.4" cy="156.9" r="0.95"/><circle cx="433.5" cy="157.8" r="0.95"/><circle cx="443.6" cy="158.3" r="0.95"/><circle cx="431.2" cy="157.9" r="0.95"/><circle cx="450.6" cy="158.5" r="0.95"/><circle cx="435.7" cy="158.2" r="0.95"/><circle cx="439.8" cy="158.7" r="0.95"/><circle cx="457.5" cy="157.4" r="0.95"/><circle cx="449.2" cy="154.1" r="0.95"/><circle cx="449.9" cy="158.7" r="0.95"/><circle cx="434.3" cy="158.4" r="0.95"/><circle cx="454.0" cy="157.8" r="0.95"/><circle cx="436.2" cy="157.8" r="0.95"/><circle cx="459.8" cy="158.2" r="0.95"/><circle cx="456.2" cy="151.4" r="0.95"/><circle cx="446.9" cy="156.6" r="0.95"/><circle cx="453.7" cy="155.1" r="0.95"/><circle cx="442.4" cy="157.5" r="0.95"/><circle cx="449.8" cy="155.6" r="0.95"/><circle cx="425.9" cy="158.9" r="0.95"/><circle cx="459.9" cy="152.8" r="0.95"/><circle cx="452.4" cy="155.5" r="0.95"/><circle cx="426.6" cy="158.3" r="0.95"/><circle cx="430.5" cy="158.2" r="0.95"/><circle cx="443.6" cy="158.8" r="0.95"/><circle cx="451.0" cy="158.6" r="0.95"/><circle cx="426.8" cy="158.3" r="0.95"/><circle cx="458.8" cy="153.8" r="0.95"/><circle cx="434.6" cy="158.6" r="0.95"/><circle cx="460.1" cy="158.8" r="0.95"/><circle cx="450.6" cy="156.9" r="0.95"/><circle cx="440.1" cy="158.7" r="0.95"/><circle cx="435.3" cy="158.0" r="0.95"/><circle cx="424.8" cy="158.7" r="0.95"/><circle cx="424.5" cy="156.6" r="0.95"/><circle cx="445.7" cy="158.7" r="0.95"/><circle cx="451.4" cy="156.9" r="0.95"/><circle cx="456.7" cy="158.2" r="0.95"/><circle cx="435.3" cy="157.9" r="0.95"/><circle cx="457.8" cy="154.5" r="0.95"/><circle cx="432.7" cy="158.6" r="0.95"/><circle cx="457.9" cy="151.3" r="0.95"/><circle cx="457.1" cy="153.7" r="0.95"/><circle cx="427.1" cy="158.6" r="0.95"/><circle cx="454.8" cy="153.1" r="0.95"/><circle cx="448.7" cy="157.7" r="0.95"/><circle cx="448.6" cy="156.0" r="0.95"/><circle cx="454.0" cy="157.1" r="0.95"/><circle cx="442.1" cy="157.0" r="0.95"/><circle cx="440.9" cy="158.8" r="0.95"/><circle cx="435.4" cy="158.0" r="0.95"/><circle cx="455.0" cy="156.9" r="0.95"/><circle cx="456.4" cy="155.8" r="0.95"/><circle cx="427.3" cy="158.4" r="0.95"/><circle cx="451.3" cy="158.7" r="0.95"/><circle cx="431.8" cy="158.7" r="0.95"/><circle cx="428.2" cy="158.8" r="0.95"/><circle cx="428.8" cy="158.2" r="0.95"/><circle cx="443.5" cy="158.4" r="0.95"/><circle cx="432.0" cy="158.4" r="0.95"/><circle cx="430.5" cy="158.6" r="0.95"/><circle cx="424.9" cy="158.8" r="0.95"/><circle cx="433.8" cy="157.8" r="0.95"/><circle cx="451.4" cy="156.8" r="0.95"/><circle cx="421.8" cy="158.7" r="0.95"/><circle cx="440.0" cy="157.7" r="0.95"/><circle cx="444.7" cy="157.1" r="0.95"/><circle cx="423.0" cy="158.8" r="0.95"/><circle cx="432.6" cy="158.8" r="0.95"/><circle cx="456.6" cy="155.4" r="0.95"/><circle cx="460.1" cy="157.3" r="0.95"/><circle cx="454.4" cy="158.8" r="0.95"/><circle cx="427.7" cy="158.1" r="0.95"/><circle cx="451.0" cy="156.4" r="0.95"/><circle cx="435.7" cy="41.3" r="0.95"/><circle cx="449.6" cy="77.2" r="0.95"/><circle cx="445.7" cy="103.6" r="0.95"/><circle cx="431.7" cy="131.3" r="0.95"/><circle cx="432.4" cy="135.3" r="0.95"/><circle cx="424.7" cy="138.0" r="0.95"/><circle cx="453.6" cy="131.3" r="0.95"/><circle cx="404.5" cy="153.1" r="0.95"/><circle cx="414.6" cy="152.0" r="0.95"/><circle cx="418.2" cy="154.4" r="0.95"/><circle cx="420.9" cy="154.4" r="0.95"/><circle cx="424.7" cy="152.8" r="0.95"/><circle cx="431.0" cy="154.4" r="0.95"/><circle cx="437.1" cy="155.1" r="0.95"/><circle cx="435.1" cy="156.4" r="0.95"/><circle cx="423.0" cy="156.4" r="0.95"/><circle cx="425.6" cy="157.1" r="0.95"/><circle cx="455.2" cy="143.6" r="0.95"/><circle cx="457.8" cy="143.4" r="0.95"/><circle cx="457.2" cy="146.0" r="0.95"/><circle cx="455.8" cy="147.0" r="0.95"/><circle cx="454.5" cy="150.5" r="0.95"/><circle cx="451.2" cy="153.7" r="0.95"/><circle cx="453.9" cy="154.4" r="0.95"/><circle cx="444.5" cy="156.4" r="0.95"/><circle cx="447.2" cy="157.1" r="0.95"/><circle cx="459.0" cy="145.5" r="0.95"/><circle cx="459.5" cy="147.5" r="0.95"/></g><g fill="#F5695D"><circle cx="476.9" cy="158.0" r="0.95"/><circle cx="478.9" cy="151.4" r="0.95"/><circle cx="470.8" cy="150.4" r="0.95"/><circle cx="475.7" cy="153.3" r="0.95"/><circle cx="479.3" cy="153.6" r="0.95"/><circle cx="480.8" cy="158.7" r="0.95"/><circle cx="481.0" cy="155.8" r="0.95"/><circle cx="471.7" cy="151.1" r="0.95"/><circle cx="481.4" cy="157.1" r="0.95"/><circle cx="477.2" cy="155.5" r="0.95"/><circle cx="478.8" cy="154.4" r="0.95"/><circle cx="481.7" cy="158.3" r="0.95"/><circle cx="474.7" cy="153.0" r="0.95"/><circle cx="482.7" cy="157.9" r="0.95"/><circle cx="482.1" cy="155.7" r="0.95"/><circle cx="481.0" cy="154.1" r="0.95"/><circle cx="474.3" cy="158.9" r="0.95"/><circle cx="476.6" cy="157.2" r="0.95"/><circle cx="471.0" cy="151.4" r="0.95"/><circle cx="480.2" cy="157.9" r="0.95"/><circle cx="482.3" cy="158.8" r="0.95"/><circle cx="470.8" cy="156.7" r="0.95"/><circle cx="480.0" cy="152.6" r="0.95"/><circle cx="479.2" cy="155.4" r="0.95"/><circle cx="468.9" cy="151.3" r="0.95"/><circle cx="482.7" cy="157.6" r="0.95"/><circle cx="475.8" cy="150.3" r="0.95"/><circle cx="472.5" cy="151.2" r="0.95"/><circle cx="468.8" cy="155.0" r="0.95"/><circle cx="480.6" cy="153.5" r="0.95"/><circle cx="473.6" cy="150.5" r="0.95"/><circle cx="476.4" cy="156.9" r="0.95"/><circle cx="471.4" cy="153.4" r="0.95"/><circle cx="477.8" cy="156.9" r="0.95"/><circle cx="474.5" cy="151.7" r="0.95"/><circle cx="481.0" cy="158.2" r="0.95"/><circle cx="478.8" cy="151.3" r="0.95"/><circle cx="479.6" cy="157.7" r="0.95"/><circle cx="472.2" cy="151.3" r="0.95"/><circle cx="469.3" cy="148.6" r="0.95"/><circle cx="482.1" cy="157.7" r="0.95"/><circle cx="483.0" cy="158.5" r="0.95"/><circle cx="478.4" cy="157.7" r="0.95"/><circle cx="482.8" cy="157.7" r="0.95"/><circle cx="479.4" cy="154.6" r="0.95"/><circle cx="477.8" cy="153.4" r="0.95"/><circle cx="474.9" cy="150.1" r="0.95"/><circle cx="473.9" cy="154.0" r="0.95"/><circle cx="476.0" cy="157.3" r="0.95"/><circle cx="471.8" cy="149.9" r="0.95"/><circle cx="475.0" cy="156.4" r="0.95"/><circle cx="476.3" cy="154.4" r="0.95"/><circle cx="468.8" cy="154.9" r="0.95"/><circle cx="474.5" cy="153.9" r="0.95"/><circle cx="472.8" cy="150.9" r="0.95"/><circle cx="478.3" cy="153.2" r="0.95"/><circle cx="481.0" cy="157.5" r="0.95"/><circle cx="477.9" cy="152.8" r="0.95"/><circle cx="478.7" cy="153.3" r="0.95"/><circle cx="477.9" cy="151.0" r="0.95"/><circle cx="472.3" cy="154.1" r="0.95"/><circle cx="474.2" cy="151.0" r="0.95"/><circle cx="481.6" cy="157.6" r="0.95"/><circle cx="483.2" cy="158.8" r="0.95"/><circle cx="471.1" cy="156.5" r="0.95"/><circle cx="468.5" cy="153.3" r="0.95"/><circle cx="483.4" cy="158.5" r="0.95"/><circle cx="481.8" cy="158.0" r="0.95"/><circle cx="477.8" cy="155.9" r="0.95"/><circle cx="481.1" cy="158.3" r="0.95"/><circle cx="477.6" cy="158.2" r="0.95"/><circle cx="482.5" cy="158.8" r="0.95"/><circle cx="472.1" cy="153.0" r="0.95"/><circle cx="475.3" cy="156.0" r="0.95"/><circle cx="478.8" cy="156.0" r="0.95"/><circle cx="471.7" cy="150.6" r="0.95"/><circle cx="479.5" cy="155.5" r="0.95"/><circle cx="472.4" cy="148.6" r="0.95"/><circle cx="479.4" cy="154.6" r="0.95"/><circle cx="480.9" cy="155.6" r="0.95"/><circle cx="475.0" cy="158.3" r="0.95"/><circle cx="483.8" cy="158.6" r="0.95"/><circle cx="478.2" cy="152.1" r="0.95"/><circle cx="480.2" cy="153.9" r="0.95"/><circle cx="468.6" cy="150.8" r="0.95"/><circle cx="483.9" cy="135.3" r="0.95"/><circle cx="485.3" cy="146.6" r="0.95"/><circle cx="481.4" cy="148.7" r="0.95"/><circle cx="476.3" cy="149.8" r="0.95"/><circle cx="471.7" cy="150.3" r="0.95"/><circle cx="489.7" cy="155.6" r="0.95"/><circle cx="507.0" cy="155.6" r="0.95"/><circle cx="515.2" cy="154.5" r="0.95"/><circle cx="514.1" cy="156.3" r="0.95"/><circle cx="523.3" cy="155.6" r="0.95"/><circle cx="507.6" cy="158.3" r="0.95"/><circle cx="500.0" cy="158.6" r="0.95"/><circle cx="502.8" cy="158.3" r="0.95"/><circle cx="487.6" cy="157.7" r="0.95"/><circle cx="484.0" cy="154.0" r="0.95"/><circle cx="492.0" cy="157.5" r="0.95"/><circle cx="496.0" cy="158.0" r="0.95"/></g><polygon points="419.0,160.4 425.0,159.5 440.0,159.0 455.0,158.6 460.2,158.0 460.2,150.5 460.8,152.0 461.8,154.5 463.8,157.8 475.0,158.3 490.0,158.7 503.0,159.2 506.0,160.3 506.0,160.9 419.0,160.9" fill="#0d0d0d"/><line x1="100.44" y1="166.20" x2="100.44" y2="23.50" stroke="#111" stroke-width="1.15" stroke-dasharray="4.6 4.6"/><line x1="108.36" y1="166.20" x2="108.36" y2="23.50" stroke="#111" stroke-width="1.15" stroke-dasharray="4.6 4.6"/><line x1="32.40" y1="159.30" x2="176.90" y2="159.30" stroke="#111" stroke-width="1.15" stroke-dasharray="4.6 4.6"/><line x1="280.02" y1="166.20" x2="280.02" y2="23.50" stroke="#111" stroke-width="1.15" stroke-dasharray="4.6 4.6"/><line x1="287.69" y1="166.20" x2="287.69" y2="23.50" stroke="#111" stroke-width="1.15" stroke-dasharray="4.6 4.6"/><line x1="210.40" y1="158.30" x2="357.60" y2="158.30" stroke="#111" stroke-width="1.15" stroke-dasharray="4.6 4.6"/><line x1="460.24" y1="166.20" x2="460.24" y2="23.50" stroke="#111" stroke-width="1.15" stroke-dasharray="4.6 4.6"/><line x1="467.96" y1="166.20" x2="467.96" y2="23.50" stroke="#111" stroke-width="1.15" stroke-dasharray="4.6 4.6"/><line x1="391.80" y1="159.40" x2="536.40" y2="159.40" stroke="#111" stroke-width="1.15" stroke-dasharray="4.6 4.6"/><text x="9.00" y="12.30" font-size="12.8" fill="#333" stroke="#333" stroke-width="0.25">A</text><text x="9.00" y="223.10" font-size="12.8" fill="#333" stroke="#333" stroke-width="0.25">B</text><text x="188.70" y="223.10" font-size="12.8" fill="#333" stroke="#333" stroke-width="0.25">C</text><text x="367.40" y="223.10" font-size="12.8" fill="#333" stroke="#333" stroke-width="0.25">D</text><text x="9.40" y="355.80" font-size="12.8" fill="#333" stroke="#333" stroke-width="0.25">E</text><g><ellipse cx="0" cy="0" rx="58.2" ry="25.3" transform="translate(100.30,275.90) rotate(-27.40)" fill="#2F7F1A" fill-opacity="0.502" stroke="#111" stroke-width="1.2"/><ellipse cx="0" cy="0" rx="58.2" ry="25.3" transform="translate(125.30,283.90) rotate(-27.40)" fill="#FD6129" fill-opacity="0.641" stroke="#111" stroke-width="1.2"/><ellipse cx="0" cy="0" rx="58.2" ry="25.3" transform="translate(61.40,283.90) rotate(27.40)" fill="#3E48B3" fill-opacity="0.546" stroke="#111" stroke-width="1.2"/><ellipse cx="0" cy="0" rx="58.2" ry="25.3" transform="translate(86.40,275.90) rotate(27.40)" fill="#EB7524" fill-opacity="0.559" stroke="#111" stroke-width="1.2"/><text x="26.00" y="272.10" font-size="8.9" fill="#222" text-anchor="middle" stroke="#222" stroke-width="0.25">267</text><text x="68.50" y="252.30" font-size="8.9" fill="#222" text-anchor="middle" stroke="#222" stroke-width="0.25">1547</text><text x="128.00" y="249.70" font-size="8.9" fill="#222" text-anchor="middle" stroke="#222" stroke-width="0.25">1337</text><text x="163.50" y="272.30" font-size="8.9" fill="#222" text-anchor="middle" stroke="#222" stroke-width="0.25">328</text><text x="51.60" y="265.20" font-size="8.9" fill="#222" text-anchor="middle" stroke="#222" stroke-width="0.25">2</text><text x="96.50" y="264.70" font-size="8.9" fill="#222" text-anchor="middle" stroke="#222" stroke-width="0.25">433</text><text x="138.20" y="264.60" font-size="8.9" fill="#222" text-anchor="middle" stroke="#222" stroke-width="0.25">23</text><text x="74.30" y="279.20" font-size="8.9" fill="#222" text-anchor="middle" stroke="#222" stroke-width="0.25">0</text><text x="116.10" y="278.90" font-size="8.9" fill="#222" text-anchor="middle" stroke="#222" stroke-width="0.25">10</text><text x="94.60" y="295.10" font-size="8.9" fill="#222" text-anchor="middle" stroke="#222" stroke-width="0.25">0</text><text x="61.80" y="301.40" font-size="8.9" fill="#222" text-anchor="middle" stroke="#222" stroke-width="0.25">2</text><text x="128.50" y="301.10" font-size="8.9" fill="#222" text-anchor="middle" stroke="#222" stroke-width="0.25">34</text><text x="78.60" y="308.80" font-size="8.9" fill="#222" text-anchor="middle" stroke="#222" stroke-width="0.25">0</text><text x="107.20" y="308.80" font-size="8.9" fill="#222" text-anchor="middle" stroke="#222" stroke-width="0.25">0</text><text x="94.30" y="314.90" font-size="8.9" fill="#222" text-anchor="middle" stroke="#222" stroke-width="0.25">0</text><text x="8.20" y="236.60" font-size="9.4" fill="#4a4a4a" textLength="83.80" lengthAdjust="spacingAndGlyphs" stroke="#4a4a4a" stroke-width="0.18">Lv-Ca-vs-Lv-Ta_hyper</text><text x="98.80" y="236.60" font-size="9.4" fill="#4a4a4a" textLength="81.40" lengthAdjust="spacingAndGlyphs" stroke="#4a4a4a" stroke-width="0.18">Lv-Ca-vs-Lv-Ta_hypo</text><text x="8.60" y="328.20" font-size="9.4" fill="#4a4a4a" textLength="82.90" lengthAdjust="spacingAndGlyphs" stroke="#4a4a4a" stroke-width="0.18">Lv-Ca-vs-Lv-Ta_down</text><text x="102.40" y="328.20" font-size="9.4" fill="#4a4a4a" textLength="72.90" lengthAdjust="spacingAndGlyphs" stroke="#4a4a4a" stroke-width="0.18">Lv-Ca-vs-Lv-Ta_up</text></g><g><ellipse cx="0" cy="0" rx="58.2" ry="25.3" transform="translate(279.10,275.90) rotate(-27.40)" fill="#2F7F1A" fill-opacity="0.502" stroke="#111" stroke-width="1.2"/><ellipse cx="0" cy="0" rx="58.2" ry="25.3" transform="translate(304.10,283.90) rotate(-27.40)" fill="#FD6129" fill-opacity="0.641" stroke="#111" stroke-width="1.2"/><ellipse cx="0" cy="0" rx="58.2" ry="25.3" transform="translate(240.20,283.90) rotate(27.40)" fill="#3E48B3" fill-opacity="0.546" stroke="#111" stroke-width="1.2"/><ellipse cx="0" cy="0" rx="58.2" ry="25.3" transform="translate(265.20,275.90) rotate(27.40)" fill="#EB7524" fill-opacity="0.559" stroke="#111" stroke-width="1.2"/><text x="204.80" y="272.10" font-size="8.9" fill="#222" text-anchor="middle" stroke="#222" stroke-width="0.25">94</text><text x="247.30" y="252.30" font-size="8.9" fill="#222" text-anchor="middle" stroke="#222" stroke-width="0.25">2268</text><text x="306.80" y="249.70" font-size="8.9" fill="#222" text-anchor="middle" stroke="#222" stroke-width="0.25">2423</text><text x="342.30" y="272.30" font-size="8.9" fill="#222" text-anchor="middle" stroke="#222" stroke-width="0.25">122</text><text x="230.40" y="265.20" font-size="8.9" fill="#222" text-anchor="middle" stroke="#222" stroke-width="0.25">5</text><text x="275.30" y="264.70" font-size="8.9" fill="#222" text-anchor="middle" stroke="#222" stroke-width="0.25">2800</text><text x="317.00" y="264.60" font-size="8.9" fill="#222" text-anchor="middle" stroke="#222" stroke-width="0.25">11</text><text x="253.10" y="279.20" font-size="8.9" fill="#222" text-anchor="middle" stroke="#222" stroke-width="0.25">6</text><text x="294.90" y="278.90" font-size="8.9" fill="#222" text-anchor="middle" stroke="#222" stroke-width="0.25">14</text><text x="273.40" y="295.10" font-size="8.9" fill="#222" text-anchor="middle" stroke="#222" stroke-width="0.25">0</text><text x="240.60" y="301.40" font-size="8.9" fill="#222" text-anchor="middle" stroke="#222" stroke-width="0.25">11</text><text x="307.30" y="301.10" font-size="8.9" fill="#222" text-anchor="middle" stroke="#222" stroke-width="0.25">16</text><text x="257.40" y="308.80" font-size="8.9" fill="#222" text-anchor="middle" stroke="#222" stroke-width="0.25">0</text><text x="286.00" y="308.80" font-size="8.9" fill="#222" text-anchor="middle" stroke="#222" stroke-width="0.25">0</text><text x="273.10" y="314.90" font-size="8.9" fill="#222" text-anchor="middle" stroke="#222" stroke-width="0.25">0</text><text x="189.00" y="236.60" font-size="9.4" fill="#4a4a4a" textLength="83.80" lengthAdjust="spacingAndGlyphs" stroke="#4a4a4a" stroke-width="0.18">Lv-Cb-vs-Lv-Tb_hyper</text><text x="276.00" y="236.60" font-size="9.4" fill="#4a4a4a" textLength="82.20" lengthAdjust="spacingAndGlyphs" stroke="#4a4a4a" stroke-width="0.18">Lv-Cb-vs-Lv-Tb_hypo</text><text x="189.30" y="328.20" font-size="9.4" fill="#4a4a4a" textLength="84.20" lengthAdjust="spacingAndGlyphs" stroke="#4a4a4a" stroke-width="0.18">Lv-Cb-vs-Lv-Tb_down</text><text x="280.40" y="328.20" font-size="9.4" fill="#4a4a4a" textLength="73.70" lengthAdjust="spacingAndGlyphs" stroke="#4a4a4a" stroke-width="0.18">Lv-Cb-vs-Lv-Tb_up</text></g><g><ellipse cx="0" cy="0" rx="58.2" ry="25.3" transform="translate(457.30,275.90) rotate(-27.40)" fill="#2F7F1A" fill-opacity="0.502" stroke="#111" stroke-width="1.2"/><ellipse cx="0" cy="0" rx="58.2" ry="25.3" transform="translate(482.30,283.90) rotate(-27.40)" fill="#FD6129" fill-opacity="0.641" stroke="#111" stroke-width="1.2"/><ellipse cx="0" cy="0" rx="58.2" ry="25.3" transform="translate(418.40,283.90) rotate(27.40)" fill="#3E48B3" fill-opacity="0.546" stroke="#111" stroke-width="1.2"/><ellipse cx="0" cy="0" rx="58.2" ry="25.3" transform="translate(443.40,275.90) rotate(27.40)" fill="#EB7524" fill-opacity="0.559" stroke="#111" stroke-width="1.2"/><text x="383.00" y="272.10" font-size="8.9" fill="#222" text-anchor="middle" stroke="#222" stroke-width="0.25">218</text><text x="425.50" y="252.30" font-size="8.9" fill="#222" text-anchor="middle" stroke="#222" stroke-width="0.25">2381</text><text x="485.00" y="249.70" font-size="8.9" fill="#222" text-anchor="middle" stroke="#222" stroke-width="0.25">2208</text><text x="520.50" y="272.30" font-size="8.9" fill="#222" text-anchor="middle" stroke="#222" stroke-width="0.25">203</text><text x="408.60" y="265.20" font-size="8.9" fill="#222" text-anchor="middle" stroke="#222" stroke-width="0.25">15</text><text x="453.50" y="264.70" font-size="8.9" fill="#222" text-anchor="middle" stroke="#222" stroke-width="0.25">2331</text><text x="495.20" y="264.60" font-size="8.9" fill="#222" text-anchor="middle" stroke="#222" stroke-width="0.25">26</text><text x="431.30" y="279.20" font-size="8.9" fill="#222" text-anchor="middle" stroke="#222" stroke-width="0.25">9</text><text x="473.10" y="278.90" font-size="8.9" fill="#222" text-anchor="middle" stroke="#222" stroke-width="0.25">31</text><text x="451.60" y="295.10" font-size="8.9" fill="#222" text-anchor="middle" stroke="#222" stroke-width="0.25">0</text><text x="413.20" y="301.40" font-size="8.9" fill="#222" text-anchor="middle" stroke="#222" stroke-width="0.25">15</text><text x="485.50" y="301.10" font-size="8.9" fill="#222" text-anchor="middle" stroke="#222" stroke-width="0.25">26</text><text x="435.60" y="308.80" font-size="8.9" fill="#222" text-anchor="middle" stroke="#222" stroke-width="0.25">0</text><text x="464.20" y="308.80" font-size="8.9" fill="#222" text-anchor="middle" stroke="#222" stroke-width="0.25">0</text><text x="451.30" y="314.90" font-size="8.9" fill="#222" text-anchor="middle" stroke="#222" stroke-width="0.25">0</text><text x="368.00" y="236.60" font-size="9.4" fill="#4a4a4a" textLength="83.20" lengthAdjust="spacingAndGlyphs" stroke="#4a4a4a" stroke-width="0.18">Lv-Cc-vs-Lv-Tc_hyper</text><text x="455.70" y="236.60" font-size="9.4" fill="#4a4a4a" textLength="80.60" lengthAdjust="spacingAndGlyphs" stroke="#4a4a4a" stroke-width="0.18">Lv-Cc-vs-Lv-Tc_hypo</text><text x="368.30" y="328.20" font-size="9.4" fill="#4a4a4a" textLength="83.00" lengthAdjust="spacingAndGlyphs" stroke="#4a4a4a" stroke-width="0.18">Lv-Cc-vs-Lv-Tc_down</text><text x="459.30" y="328.20" font-size="9.4" fill="#4a4a4a" textLength="72.90" lengthAdjust="spacingAndGlyphs" stroke="#4a4a4a" stroke-width="0.18">Lv-Cc-vs-Lv-Tc_up</text></g><g><circle cx="44.4" cy="406.3" r="35.3" fill="#6875BE"/><circle cx="90.1" cy="406.3" r="35.3" fill="#F1E873"/><circle cx="67.25" cy="445.2" r="35.3" fill="#76C46E"/><circle cx="90.1" cy="406.3" r="35.3" fill="#B3AE7E" clip-path="url(#cb0)"/><circle cx="67.25" cy="445.2" r="35.3" fill="#0BAE70" clip-path="url(#cb0)"/><circle cx="67.25" cy="445.2" r="35.3" fill="#86C63A" clip-path="url(#cy0)"/><g clip-path="url(#cb0)"><circle cx="67.25" cy="445.2" r="35.3" fill="#3DB446" clip-path="url(#cy0)"/></g><circle cx="44.4" cy="406.3" r="35.3" fill="none" stroke="#222" stroke-width="0.9"/><circle cx="90.1" cy="406.3" r="35.3" fill="none" stroke="#222" stroke-width="0.9"/><circle cx="67.25" cy="445.2" r="35.3" fill="none" stroke="#222" stroke-width="0.9"/><text x="36.70" y="401.10" font-size="9.0" fill="#151520" text-anchor="middle" stroke="#151520" stroke-width="0.3">37</text><text x="67.25" y="401.10" font-size="9.0" fill="#151520" text-anchor="middle" stroke="#151520" stroke-width="0.3">1</text><text x="98.00" y="401.10" font-size="9.0" fill="#151520" text-anchor="middle" stroke="#151520" stroke-width="0.3">16</text><text x="48.25" y="432.70" font-size="9.0" fill="#151520" text-anchor="middle" stroke="#151520" stroke-width="0.3">3</text><text x="67.25" y="422.10" font-size="9.0" fill="#151520" text-anchor="middle" stroke="#151520" stroke-width="0.3">3</text><text x="87.25" y="432.70" font-size="9.0" fill="#151520" text-anchor="middle" stroke="#151520" stroke-width="0.3">10</text><text x="67.25" y="456.20" font-size="9.0" fill="#151520" text-anchor="middle" stroke="#151520" stroke-width="0.3">41</text><text x="8.30" y="368.20" font-size="8.64" fill="#444" textLength="56.80" lengthAdjust="spacingAndGlyphs" stroke="#444" stroke-width="0.3">Lv-Ca-vs-Lv-Ta</text><text x="71.20" y="368.10" font-size="8.64" fill="#444" textLength="58.20" lengthAdjust="spacingAndGlyphs" stroke="#444" stroke-width="0.3">Lv-Cb-vs-Lv-Tb</text><text x="39.10" y="488.90" font-size="8.64" fill="#444" textLength="56.60" lengthAdjust="spacingAndGlyphs" stroke="#444" stroke-width="0.3">Lv-Cc-vs-Lv-Tc</text></g><g><circle cx="180.8" cy="406.3" r="35.3" fill="#6875BE"/><circle cx="226.3" cy="406.3" r="35.3" fill="#F1E873"/><circle cx="203.55" cy="445.2" r="35.3" fill="#76C46E"/><circle cx="226.3" cy="406.3" r="35.3" fill="#B3AE7E" clip-path="url(#cb1)"/><circle cx="203.55" cy="445.2" r="35.3" fill="#0BAE70" clip-path="url(#cb1)"/><circle cx="203.55" cy="445.2" r="35.3" fill="#86C63A" clip-path="url(#cy1)"/><g clip-path="url(#cb1)"><circle cx="203.55" cy="445.2" r="35.3" fill="#3DB446" clip-path="url(#cy1)"/></g><circle cx="180.8" cy="406.3" r="35.3" fill="none" stroke="#222" stroke-width="0.9"/><circle cx="226.3" cy="406.3" r="35.3" fill="none" stroke="#222" stroke-width="0.9"/><circle cx="203.55" cy="445.2" r="35.3" fill="none" stroke="#222" stroke-width="0.9"/><text x="173.10" y="401.10" font-size="9.0" fill="#151520" text-anchor="middle" stroke="#151520" stroke-width="0.3">26</text><text x="203.55" y="401.10" font-size="9.0" fill="#151520" text-anchor="middle" stroke="#151520" stroke-width="0.3">1</text><text x="234.20" y="401.10" font-size="9.0" fill="#151520" text-anchor="middle" stroke="#151520" stroke-width="0.3">13</text><text x="184.55" y="432.70" font-size="9.0" fill="#151520" text-anchor="middle" stroke="#151520" stroke-width="0.3">2</text><text x="203.55" y="422.10" font-size="9.0" fill="#151520" text-anchor="middle" stroke="#151520" stroke-width="0.3">4</text><text x="223.55" y="432.70" font-size="9.0" fill="#151520" text-anchor="middle" stroke="#151520" stroke-width="0.3">7</text><text x="203.55" y="456.20" font-size="9.0" fill="#151520" text-anchor="middle" stroke="#151520" stroke-width="0.3">44</text><text x="142.90" y="368.20" font-size="8.64" fill="#444" textLength="57.20" lengthAdjust="spacingAndGlyphs" stroke="#444" stroke-width="0.3">Lv-Ca-vs-Lv-Ta</text><text x="206.00" y="368.10" font-size="8.64" fill="#444" textLength="58.70" lengthAdjust="spacingAndGlyphs" stroke="#444" stroke-width="0.3">Lv-Cb-vs-Lv-Tb</text><text x="174.10" y="488.90" font-size="8.64" fill="#444" textLength="56.60" lengthAdjust="spacingAndGlyphs" stroke="#444" stroke-width="0.3">Lv-Cc-vs-Lv-Tc</text></g><g><circle cx="316.5" cy="406.3" r="35.3" fill="#6875BE"/><circle cx="362.0" cy="406.3" r="35.3" fill="#F1E873"/><circle cx="339.25" cy="445.2" r="35.3" fill="#76C46E"/><circle cx="362.0" cy="406.3" r="35.3" fill="#B3AE7E" clip-path="url(#cb2)"/><circle cx="339.25" cy="445.2" r="35.3" fill="#0BAE70" clip-path="url(#cb2)"/><circle cx="339.25" cy="445.2" r="35.3" fill="#86C63A" clip-path="url(#cy2)"/><g clip-path="url(#cb2)"><circle cx="339.25" cy="445.2" r="35.3" fill="#3DB446" clip-path="url(#cy2)"/></g><circle cx="316.5" cy="406.3" r="35.3" fill="none" stroke="#222" stroke-width="0.9"/><circle cx="362.0" cy="406.3" r="35.3" fill="none" stroke="#222" stroke-width="0.9"/><circle cx="339.25" cy="445.2" r="35.3" fill="none" stroke="#222" stroke-width="0.9"/><text x="308.80" y="401.10" font-size="9.0" fill="#151520" text-anchor="middle" stroke="#151520" stroke-width="0.3">2</text><text x="339.25" y="401.10" font-size="9.0" fill="#151520" text-anchor="middle" stroke="#151520" stroke-width="0.3">0</text><text x="369.90" y="401.10" font-size="9.0" fill="#151520" text-anchor="middle" stroke="#151520" stroke-width="0.3">8</text><text x="320.25" y="432.70" font-size="9.0" fill="#151520" text-anchor="middle" stroke="#151520" stroke-width="0.3">0</text><text x="339.25" y="422.10" font-size="9.0" fill="#151520" text-anchor="middle" stroke="#151520" stroke-width="0.3">0</text><text x="359.25" y="432.70" font-size="9.0" fill="#151520" text-anchor="middle" stroke="#151520" stroke-width="0.3">3</text><text x="339.25" y="456.20" font-size="9.0" fill="#151520" text-anchor="middle" stroke="#151520" stroke-width="0.3">21</text><text x="278.90" y="368.20" font-size="8.64" fill="#444" textLength="57.20" lengthAdjust="spacingAndGlyphs" stroke="#444" stroke-width="0.3">Lv-Ca-vs-Lv-Ta</text><text x="342.00" y="368.10" font-size="8.64" fill="#444" textLength="58.70" lengthAdjust="spacingAndGlyphs" stroke="#444" stroke-width="0.3">Lv-Cb-vs-Lv-Tb</text><text x="312.00" y="488.90" font-size="8.64" fill="#444" textLength="56.60" lengthAdjust="spacingAndGlyphs" stroke="#444" stroke-width="0.3">Lv-Cc-vs-Lv-Tc</text></g><g><circle cx="450.8" cy="406.3" r="35.3" fill="#6875BE"/><circle cx="496.3" cy="406.3" r="35.3" fill="#F1E873"/><circle cx="473.55" cy="445.2" r="35.3" fill="#76C46E"/><circle cx="496.3" cy="406.3" r="35.3" fill="#B3AE7E" clip-path="url(#cb3)"/><circle cx="473.55" cy="445.2" r="35.3" fill="#0BAE70" clip-path="url(#cb3)"/><circle cx="473.55" cy="445.2" r="35.3" fill="#86C63A" clip-path="url(#cy3)"/><g clip-path="url(#cb3)"><circle cx="473.55" cy="445.2" r="35.3" fill="#3DB446" clip-path="url(#cy3)"/></g><circle cx="450.8" cy="406.3" r="35.3" fill="none" stroke="#222" stroke-width="0.9"/><circle cx="496.3" cy="406.3" r="35.3" fill="none" stroke="#222" stroke-width="0.9"/><circle cx="473.55" cy="445.2" r="35.3" fill="none" stroke="#222" stroke-width="0.9"/><text x="443.10" y="401.10" font-size="9.0" fill="#151520" text-anchor="middle" stroke="#151520" stroke-width="0.3">1</text><text x="473.55" y="401.10" font-size="9.0" fill="#151520" text-anchor="middle" stroke="#151520" stroke-width="0.3">1</text><text x="504.20" y="401.10" font-size="9.0" fill="#151520" text-anchor="middle" stroke="#151520" stroke-width="0.3">9</text><text x="454.55" y="432.70" font-size="9.0" fill="#151520" text-anchor="middle" stroke="#151520" stroke-width="0.3">0</text><text x="473.55" y="422.10" font-size="9.0" fill="#151520" text-anchor="middle" stroke="#151520" stroke-width="0.3">0</text><text x="493.55" y="432.70" font-size="9.0" fill="#151520" text-anchor="middle" stroke="#151520" stroke-width="0.3">7</text><text x="473.55" y="456.20" font-size="9.0" fill="#151520" text-anchor="middle" stroke="#151520" stroke-width="0.3">17</text><text x="413.60" y="368.20" font-size="8.64" fill="#444" textLength="57.50" lengthAdjust="spacingAndGlyphs" stroke="#444" stroke-width="0.3">Lv-Ca-vs-Lv-Ta</text><text x="476.70" y="368.10" font-size="8.64" fill="#444" textLength="58.70" lengthAdjust="spacingAndGlyphs" stroke="#444" stroke-width="0.3">Lv-Cb-vs-Lv-Tb</text><text x="449.20" y="488.90" font-size="8.64" fill="#444" textLength="56.80" lengthAdjust="spacingAndGlyphs" stroke="#444" stroke-width="0.3">Lv-Cc-vs-Lv-Tc</text></g><text x="17.80" y="500.60" font-size="9.9" fill="#1a1a1a" textLength="98.80" lengthAdjust="spacingAndGlyphs">hyper DMG and up DEG</text><text x="158.10" y="500.60" font-size="9.9" fill="#1a1a1a" textLength="95.10" lengthAdjust="spacingAndGlyphs">hypo DMG and up DEG</text><text x="285.30" y="500.60" font-size="9.9" fill="#1a1a1a" textLength="110.70" lengthAdjust="spacingAndGlyphs">hyper DMG and down DEG</text><text x="418.60" y="500.60" font-size="9.9" fill="#1a1a1a" textLength="108.10" lengthAdjust="spacingAndGlyphs">hypo DMG and down DEG</text></g></svg>
</body></html>
